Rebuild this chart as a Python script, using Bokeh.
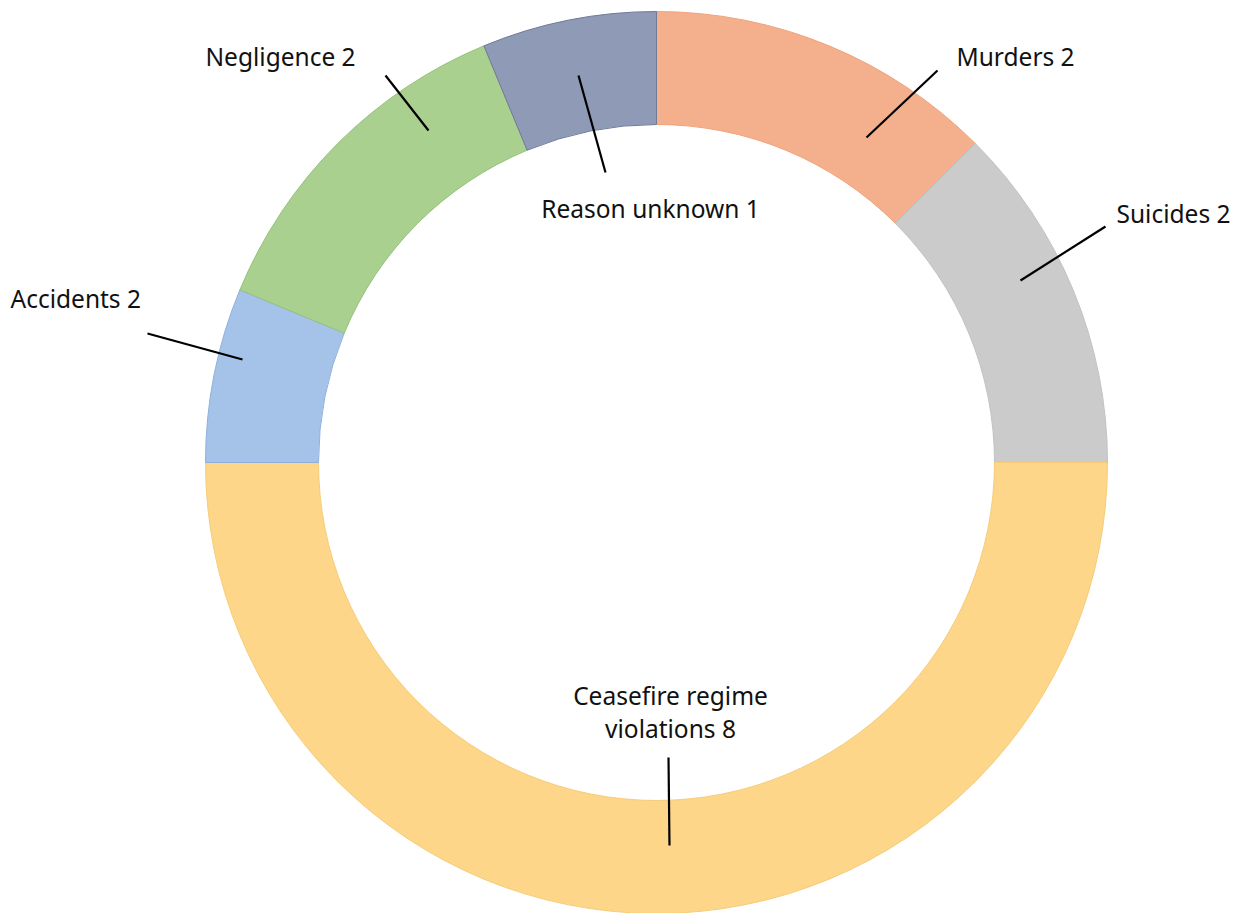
import numpy as np
from bokeh.plotting import figure
from bokeh.models import Range1d, ColumnDataSource
from bokeh.core.properties import value
from bokeh.embed import file_html
from bokeh.resources import INLINE

# ---- data (clockwise from 12 o'clock) ----
categories = ["Murders", "Suicides", "Ceasefire regime violations", "Accidents", "Negligence", "Reason unknown"]
slice_sizes = [2, 2, 8, 1, 2, 1]          # share of the ring as drawn
label_values = [2, 2, 8, 2, 2, 1]          # numbers printed in the labels
label_texts = ["Murders 2", "Suicides 2", "Ceasefire regime\nviolations 8", "Accidents 2", "Negligence 2", "Reason unknown 1"]
colors = ["#F4B08C", "#CBCBCB", "#FDD68A", "#A5C2E8", "#A9D08F", "#8F9AB7"]
line_colors = ["#EFA37D", "#BFC3C8", "#F6CC78", "#8FB0DC", "#96C27C", "#6E7A98"]

W, H = 1243, 913
CX, CY = 656, 462
R_OUT, R_IN = 451, 338

def px(x, y):
    return x - CX, CY - y

frac = np.array(slice_sizes, dtype=float) / sum(slice_sizes)
ends = np.cumsum(frac) * 2 * np.pi
starts = ends - frac * 2 * np.pi
src = ColumnDataSource(dict(
    start=np.pi / 2 - starts, end=np.pi / 2 - ends,
    color=colors, lc=line_colors, cat=categories,
))

p = figure(width=W, height=H, output_backend="svg", toolbar_location=None,
           x_range=Range1d(-CX, W - CX), y_range=Range1d(CY - H, CY),
           min_border=0, background_fill_color="white", border_fill_color="white")
p.axis.visible = False
p.grid.visible = False
p.outline_line_color = None

p.annular_wedge(x=0, y=0, inner_radius=R_IN, outer_radius=R_OUT,
                start_angle="start", end_angle="end", direction="clock",
                fill_color="color", line_color="lc", line_width=1, source=src)

# leader lines (pixel layout)
leaders = [((937, 70), (866, 137)), ((1105, 226), (1020, 280)), ((668, 757), (669, 845)),
           ((147, 333), (242, 359)), ((385, 75), (428, 130)), ((578, 75), (605, 172))]
for (a, b) in leaders:
    x0, y0 = px(*a)
    x1, y1 = px(*b)
    p.line([x0, x1], [y0, y1], line_color="black", line_width=2.2)

# label layout: (x, y of first line, align)
label_pos = [(956, 56, "left"), (1116, 213, "left"), (670, 695, "center"),
             (10, 298, "left"), (205, 56, "left"), (650, 208, "center")]
LINE_GAP = 33
for txt, (x, y, al) in zip(label_texts, label_pos):
    for i, part in enumerate(txt.split("\n")):
        xx, yy = px(x, y + i * LINE_GAP)
        p.text(x=[xx], y=[yy], text=[part], text_font=value("Noto Sans"), text_font_size="24.5px",
               text_color="#111111", text_align=al, text_baseline="middle")

open("out.html", "w").write(file_html(p, INLINE))
